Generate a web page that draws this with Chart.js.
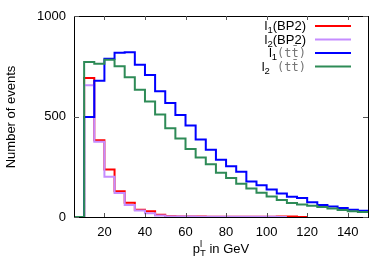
<!DOCTYPE html>
<html>
<head>
<meta charset="utf-8">
<script src="https://cdn.jsdelivr.net/npm/chart.js@4/dist/chart.umd.min.js"></script>
<style>
  html, body { margin: 0; padding: 0; background: #fff; }
  #wrap { width: 392px; height: 274px; }
</style>
</head>
<body>
<div id="wrap"><canvas id="c" width="392" height="274"></canvas></div>
<script>
// Bin lower edges (GeV), 5 GeV wide bins
const binEdges = [5, 10, 15, 20, 25, 30, 35, 40, 45, 50, 55, 60, 65, 70, 75, 80, 85, 90, 95, 100, 105, 110, 115, 120, 125, 130, 135, 140, 145, 150];

// Counts per bin (bin i spans binEdges[i] .. binEdges[i+1])
const l1BP2 = [0, 692, 382, 236, 128, 71, 36, 29, 11, 4, 3, 2, 2, 1, 1, 1, 1, 1, 1, 1, 3, 2, 0];
const l2BP2 = [0, 655, 375, 200, 120, 60, 32, 19, 8, 3, 2, 2, 1, 1, 1, 1, 1, 1, 1, 1, 0];
const l1tt  = [0, 497, 678, 787, 817, 820, 758, 706, 626, 567, 508, 455, 385, 335, 285, 253, 225, 177, 158, 137, 117, 101, 95, 73, 60, 52, 45, 36, 31];
const l2tt  = [0, 771, 762, 782, 750, 695, 633, 575, 510, 442, 390, 338, 296, 263, 220, 194, 165, 142, 121, 102, 85, 70, 62, 56, 50, 42, 35, 29, 25];

const xTickValues = [20, 40, 60, 80, 100, 120, 140];
const yTickValues = [0, 500, 1000];

const seriesNames = ['l1(BP2)', 'l2(BP2)', 'l1(tt)', 'l2(tt)'];
const seriesColors = ['#ff0000', '#c58cff', '#0000ff', '#2e8b57'];

// Step points: each bin value placed at its lower edge, last value repeated at the closing edge
function stepPoints(counts) {
  const pts = counts.map((v, i) => ({ x: binEdges[i], y: v }));
  const n = counts.length;
  pts.push({ x: binEdges[n], y: counts[n - 1] });
  return pts;
}

const FONT = '"Liberation Sans", Arial, sans-serif';

function drawRich(ctx, parts, x, y, align) {
  let total = 0;
  parts.forEach(p => {
    ctx.font = p.size + 'px ' + (p.family || FONT);
    p.w = ctx.measureText(p.t).width;
    if (p.adv !== false) total += p.w;
  });
  let cx = align === 'right' ? x - total : (align === 'center' ? x - total / 2 : x);
  ctx.textBaseline = 'alphabetic';
  ctx.textAlign = 'left';
  parts.forEach(p => {
    ctx.font = p.size + 'px ' + (p.family || FONT);
    ctx.fillStyle = p.color || '#000';
    ctx.fillText(p.t, cx, y + (p.dy || 0));
    if (p.adv !== false) cx += p.w;
  });
}

const decorPlugin = {
  id: 'decor',
  afterDatasetsDraw(chart) {
    const { ctx, chartArea: a, scales } = chart;
    ctx.save();
    ctx.strokeStyle = '#000';
    ctx.lineWidth = 1;
    ctx.strokeRect(Math.round(a.left) + 0.5, Math.round(a.top) + 0.5, Math.round(a.right - a.left), Math.round(a.bottom - a.top));
    ctx.strokeStyle = '#555';
    ctx.beginPath();
    xTickValues.forEach(v => {
      const px = Math.round(scales.x.getPixelForValue(v)) + 0.5;
      ctx.moveTo(px, a.bottom); ctx.lineTo(px, a.bottom - 4);
      ctx.moveTo(px, a.top); ctx.lineTo(px, a.top + 4);
    });
    yTickValues.forEach(v => {
      const py = Math.round(scales.y.getPixelForValue(v)) + 0.5;
      ctx.moveTo(a.left, py); ctx.lineTo(a.left + 5, py);
      ctx.moveTo(a.right, py); ctx.lineTo(a.right - 5, py);
    });
    ctx.stroke();

    // legend
    const mono = '"DejaVu Sans Mono", "Liberation Mono", monospace';
    const gray = '#777';
    const rows = [
      [{ t: 'l', size: 13 }, { t: '1', size: 9.5, dy: 3 }, { t: '(BP2)', size: 13 }],
      [{ t: 'l', size: 13 }, { t: '2', size: 9.5, dy: 3 }, { t: '(BP2)', size: 13 }],
      [{ t: 'l', size: 13 }, { t: '1', size: 9.5, dy: 3 }, { t: '(tt\u0304)', size: 12, color: gray, family: mono }],
      [{ t: 'l', size: 13 }, { t: '2', size: 9.5, dy: 3 }, { t: ' (tt\u0304)', size: 12, color: gray, family: mono }]
    ];
    const rowY = [26, 39.5, 53, 66.5];
    rows.forEach((parts, i) => {
      drawRich(ctx, parts, 306, rowY[i] + 4, 'right');
      ctx.strokeStyle = seriesColors[i];
      ctx.lineWidth = 2;
      ctx.beginPath();
      ctx.moveTo(315, rowY[i]); ctx.lineTo(351, rowY[i]);
      ctx.stroke();
    });

    // axis titles
    ctx.save();
    ctx.translate(11, 117);
    ctx.rotate(-Math.PI / 2);
    ctx.font = '13px ' + FONT;
    ctx.fillStyle = '#000';
    ctx.textAlign = 'center';
    ctx.textBaseline = 'middle';
    ctx.fillText('Number of events', 0, 0);
    ctx.restore();

    drawRich(ctx, [
      { t: 'p', size: 13 },
      { t: 'l', size: 9.5, dy: -6, adv: false },
      { t: 'T', size: 9.5, dy: 3 },
      { t: ' in GeV', size: 13 }
    ], 221, 253, 'center');
    ctx.restore();
  }
};

const datasets = [l1BP2, l2BP2, l1tt, l2tt].map((arr, i) => ({
  label: seriesNames[i],
  data: stepPoints(arr),
  borderColor: seriesColors[i],
  backgroundColor: seriesColors[i],
  borderWidth: 2,
  pointRadius: 0,
  stepped: 'before',
  fill: false,
  order: 3 - i
}));

new Chart(document.getElementById('c'), {
  type: 'line',
  data: { datasets },
  options: {
    responsive: false,
    animation: false,
    events: [],
    layout: { padding: { top: 16, right: 24, left: 0, bottom: 0 } },
    plugins: { legend: { display: false }, tooltip: { enabled: false } },
    scales: {
      x: {
        type: 'linear',
        min: 5, max: 150,
        grid: { display: false, drawTicks: false },
        border: { display: false },
        afterBuildTicks: s => { s.ticks = xTickValues.map(v => ({ value: v })); },
        afterFit: s => { s.height = 57; },
        ticks: { color: '#000', font: { family: FONT, size: 13 }, padding: 8, maxRotation: 0, autoSkip: false, callback: v => String(v) }
      },
      y: {
        min: 0, max: 1000,
        grid: { display: false, drawTicks: false },
        border: { display: false },
        afterBuildTicks: s => { s.ticks = yTickValues.map(v => ({ value: v })); },
        afterFit: s => { s.width = 74; },
        ticks: { color: '#000', font: { family: FONT, size: 13 }, padding: 8, callback: v => String(v) }
      }
    }
  },
  plugins: [decorPlugin]
});
</script>
</body>
</html>
